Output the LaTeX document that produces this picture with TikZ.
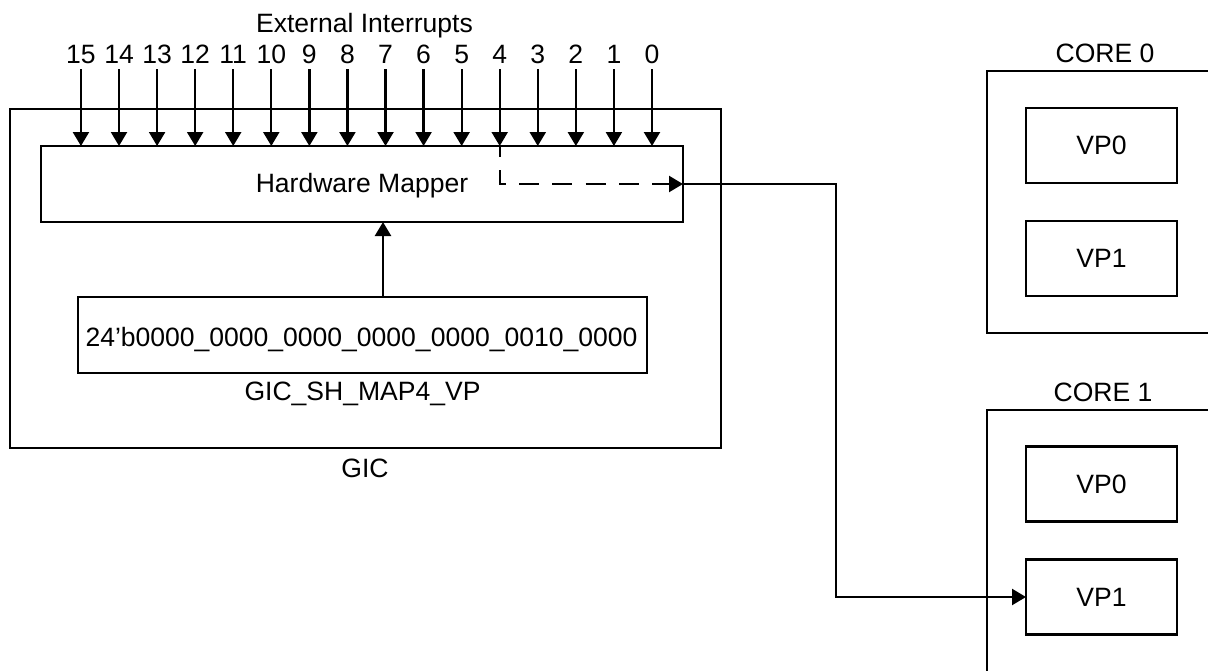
\documentclass[tikz,border=0pt]{standalone}
\usepackage{fontspec}
\setmainfont{Liberation Sans}
\usetikzlibrary{arrows.meta}
\begin{document}
\begin{tikzpicture}[x=0.75pt,y=-0.75pt,
  line width=1.7pt,
  every node/.style={font=\fontsize{19.9pt}{24pt}\selectfont, inner sep=0pt, outer sep=0pt},
  box/.style={draw, rectangle, line width=1.7pt},
  vpbox/.style={box, minimum width=113.25pt, minimum height=56.25pt},
  lbl/.style={anchor=base},
  arr/.style={-{Triangle[width=12pt,length=10.5pt]}},
  dashline/.style={dash pattern=on 15pt off 10pt, dash phase=7pt}
]
\useasboundingbox (0,0) rectangle (1208,671);
\clip (0,0) rectangle (1208,671);

% GIC block with the hardware mapper and the map register
\node[box, minimum width=533.25pt, minimum height=254.25pt] (gic) at (365.5,278.5) {};
\node[box, minimum width=481.5pt, minimum height=57pt] (mapper) at (362,184) {};
\node[box, minimum width=426.75pt, minimum height=57pt] (reg) at (362.5,335) {};

\node[lbl] (maptext) at (362,192.5) {Hardware Mapper};
\node[lbl] (regtext) at (361.5,346) {24’b0000\_0000\_0000\_0000\_0000\_0010\_0000};
\node[lbl] (regname) at (362.5,400) {GIC\_SH\_MAP4\_VP};
\node[lbl] (gicname) at (365,477) {GIC};

% external interrupt inputs
\node[lbl] (ext) at (364.5,32) {External Interrupts};
\foreach \n in {0,...,15} {
  \pgfmathsetmacro{\xx}{652-38.07*\n}
  \node[lbl] (n\n) at (\xx,63) {\n};
  \draw[arr] ([yshift=-4.5pt]n\n.base) -- (n\n.base |- mapper.north);
}

% register feeds the mapper
\coordinate (upx) at (383,0);
\draw[arr] (reg.north -| upx) -- (mapper.south -| upx);

% cores and their virtual processors
\node[lbl] (core0) at (1105,62) {CORE 0};
\coordinate (c0tl) at (987,71);
\coordinate (c0bl) at (987,333);
\draw (1220,71) -- (c0tl) -- (c0bl) -- (1220,333);
\node[vpbox] (c0vp0) at (1101.5,145.5) {VP0};
\node[vpbox] (c0vp1) at (1101.5,258.5) {VP1};

\node[lbl] (core1) at (1103,401) {CORE 1};
\coordinate (c1tl) at (987,410);
\draw (1220,410) -- (c1tl) -- (987,690);
\node[vpbox] (c1vp0) at (1101.5,484) {VP0};
\node[vpbox] (c1vp1) at (1101.5,597) {VP1};

% routing of interrupt 4 to VP1 of core 1
\draw[dashline, arr] (n4.base |- mapper.north) |- (mapper.east);
\coordinate (bend) at (836,0);
\draw[arr] (mapper.east) -| (bend |- c1vp1.west) -- (c1vp1.west);
\end{tikzpicture}
\end{document}
